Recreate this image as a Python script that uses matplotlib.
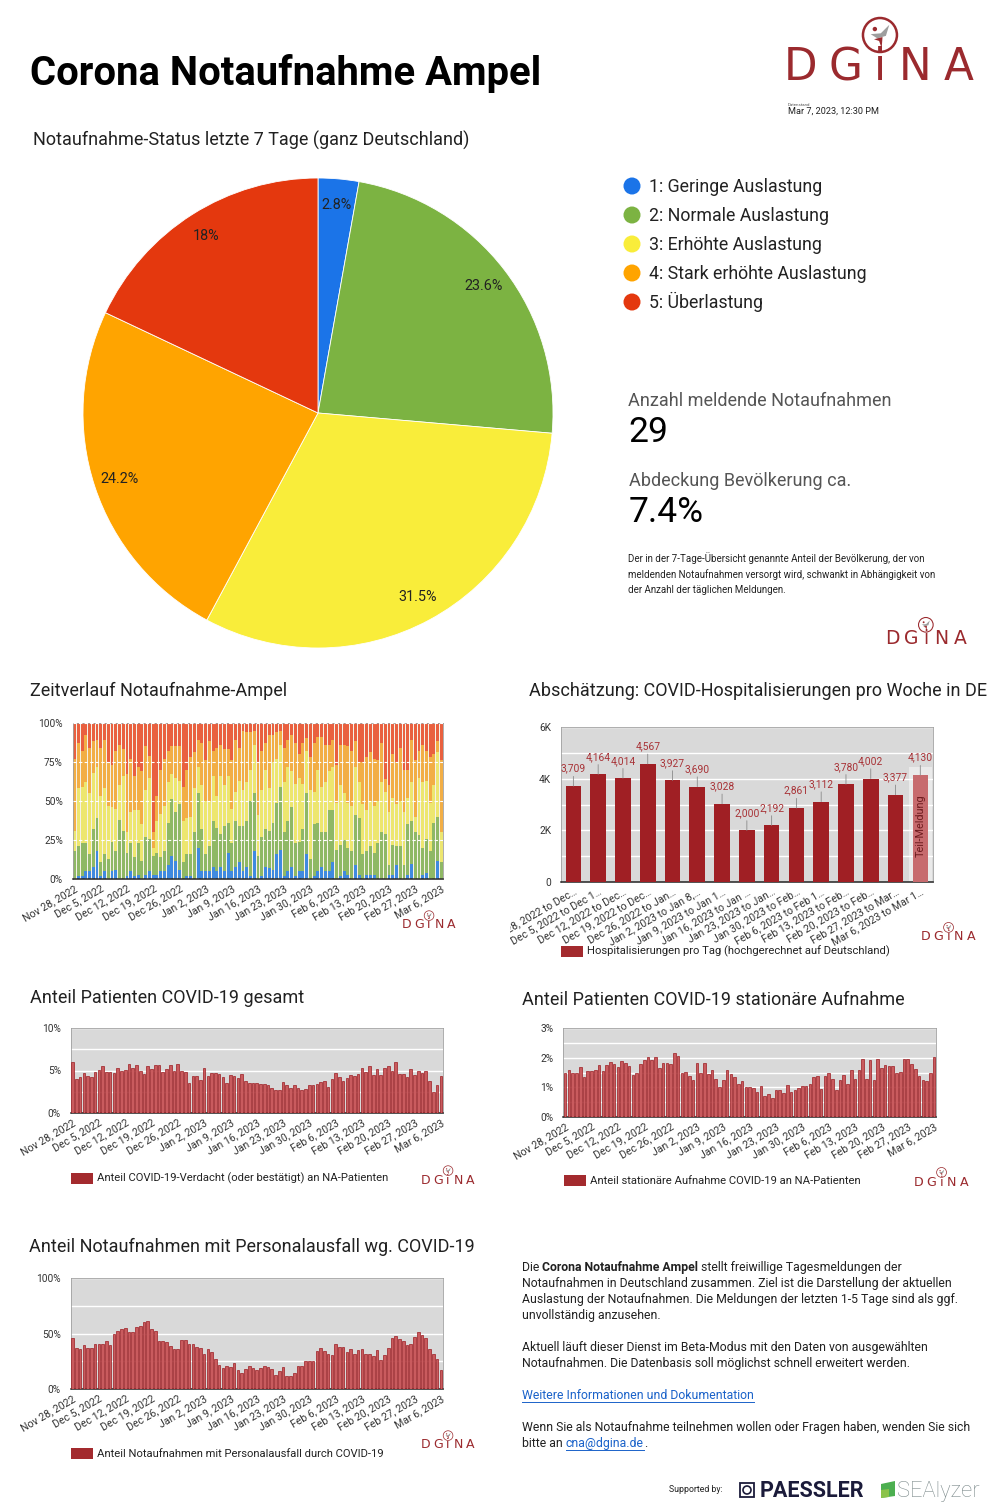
import numpy as np
import matplotlib
matplotlib.use("Agg")
import matplotlib.pyplot as plt
from matplotlib.patches import Circle, Rectangle, Polygon
from matplotlib.transforms import Bbox

plt.rcParams['font.family'] = ['Roboto', 'DejaVu Sans']

W, H = 1000, 1510

# ---- Pie: Status letzte 7 Tage ----
status_labels = ["1: Geringe Auslastung", "2: Normale Auslastung", "3: Erhöhte Auslastung",
                 "4: Stark erhöhte Auslastung", "5: Überlastung"]
status_share = [2.8, 23.6, 31.5, 24.2, 18.0]
pie_colors = ['#1b74e8', '#7cb342', '#f9ed3a', '#ffa400', '#e4380e']
ampel_colors = ['#3f8ae0', '#8fb865', '#ede66f', '#f2ae45', '#e9603f']

n_meldende = "29"
abdeckung = "7.4%"

# ---- Zeitverlauf Ampel (upper edge of each level, percent, daily from Nov 28, 2022) ----
cum_blue = [0, 2, 2, 5, 5, 8, 18, 2, 5, 0,
            5, 6, 0, 0, 2, 5, 2, 3, 0, 3,
            5, 3, 3, 5, 5, 9, 15, 12, 6, 0,
            2, 2, 0, 20, 5, 5, 5, 8, 5, 8,
            5, 17, 5, 8, 11, 5, 8, 2, 18, 0,
            2, 8, 7, 6, 16, 19, 2, 5, 8, 2,
            5, 5, 16, 0, 2, 5, 8, 5, 5, 11,
            0, 2, 5, 3, 0, 9, 3, 0, 3, 3,
            3, 0, 0, 0, 3, 3, 9, 0, 0, 3,
            10, 0, 0, 3, 4, 0, 0, 12, 0]
cum_green = [18, 21, 23, 23, 16, 32, 39, 11, 16, 13,
             24, 18, 38, 31, 17, 23, 14, 23, 12, 27,
             26, 15, 17, 14, 18, 36, 51, 43, 48, 11,
             16, 16, 30, 55, 32, 16, 21, 37, 33, 29,
             34, 36, 23, 37, 34, 34, 37, 50, 55, 15,
             27, 32, 31, 36, 49, 59, 30, 37, 46, 23,
             24, 32, 55, 13, 35, 36, 30, 30, 44, 44,
             19, 22, 25, 20, 18, 41, 39, 16, 18, 21,
             17, 23, 30, 29, 9, 22, 21, 21, 9, 35,
             37, 30, 28, 20, 26, 18, 36, 40, 11]
cum_yellow = [31, 58, 59, 62, 55, 68, 72, 53, 58, 47,
              46, 45, 60, 66, 30, 43, 44, 44, 35, 57,
              65, 20, 37, 42, 47, 62, 67, 65, 63, 37,
              39, 40, 58, 72, 60, 50, 50, 66, 53, 66,
              60, 66, 45, 56, 63, 57, 62, 70, 86, 41,
              57, 70, 58, 75, 77, 86, 62, 72, 69, 61,
              65, 61, 82, 57, 56, 70, 59, 62, 69, 72,
              49, 60, 55, 49, 47, 72, 62, 48, 44, 50,
              47, 50, 62, 56, 43, 52, 48, 50, 43, 52,
              62, 40, 65, 62, 63, 49, 60, 81, 30]
cum_orange = [77, 87, 82, 92, 84, 88, 89, 84, 89, 75,
              73, 82, 86, 83, 67, 77, 66, 72, 69, 85,
              79, 30, 53, 70, 77, 82, 85, 85, 85, 59,
              70, 78, 81, 89, 87, 76, 88, 82, 84, 86,
              83, 83, 76, 89, 84, 95, 94, 94, 95, 75,
              82, 87, 92, 92, 94, 95, 84, 89, 92, 87,
              80, 87, 90, 78, 87, 91, 91, 86, 86, 89,
              73, 86, 86, 85, 82, 88, 75, 75, 78, 81,
              77, 76, 87, 64, 60, 80, 75, 84, 70, 70,
              89, 76, 82, 86, 82, 78, 80, 88, 76]

week_labels = ["Nov 28, 2022", "Dec 5, 2022", "Dec 12, 2022", "Dec 19, 2022", "Dec 26, 2022",
               "Jan 2, 2023", "Jan 9, 2023", "Jan 16, 2023", "Jan 23, 2023", "Jan 30, 2023",
               "Feb 6, 2023", "Feb 13, 2023", "Feb 20, 2023", "Feb 27, 2023", "Mar 6, 2023"]

# ---- Hospitalisierungen pro Woche ----
hosp_labels = ["Nov 28, 2022 to Dec…", "Dec 5, 2022 to Dec 1…", "Dec 12, 2022 to Dec…",
               "Dec 19, 2022 to Dec…", "Dec 26, 2022 to Jan…", "Jan 2, 2023 to Jan 8,…",
               "Jan 9, 2023 to Jan 1…", "Jan 16, 2023 to Jan …", "Jan 23, 2023 to Jan…",
               "Jan 30, 2023 to Feb…", "Feb 6, 2023 to Feb 1…", "Feb 13, 2023 to Feb…",
               "Feb 20, 2023 to Feb…", "Feb 27, 2023 to Mar…", "Mar 6, 2023 to Mar 1…"]
hosp_values = [3709, 4164, 4014, 4567, 3927, 3690, 3028, 2000, 2192, 2861,
               3112, 3780, 4002, 3377, 4130]

# ---- Anteil COVID-19 gesamt (%) ----
covid_total = [6.0, 4.0, 4.2, 4.7, 4.4, 4.2, 4.8,
               5.1, 5.5, 4.8, 4.8, 4.7, 5.3, 4.9,
               5.1, 5.8, 5.3, 5.6, 5.0, 4.6, 5.5,
               5.2, 5.6, 5.6, 4.8, 5.2, 5.7, 5.0,
               5.8, 5.0, 4.8, 3.5, 4.4, 4.4, 3.9,
               5.3, 4.4, 4.7, 4.7, 4.6, 4.2, 3.5,
               4.5, 4.4, 4.1, 4.6, 3.8, 3.5, 3.5,
               3.5, 3.4, 3.4, 3.3, 3.0, 2.7, 2.7,
               3.7, 3.3, 2.9, 3.3, 2.9, 2.7, 2.8,
               3.3, 3.3, 3.4, 3.6, 3.8, 3.1, 4.0,
               4.7, 4.2, 3.8, 4.1, 4.5, 4.4, 4.6,
               5.3, 4.8, 5.5, 4.5, 5.2, 4.5, 5.3,
               5.5, 5.0, 6.0, 4.6, 4.6, 4.2, 5.2,
               4.5, 4.9, 4.7, 5.0, 3.8, 2.5, 3.3,
               4.4]

# ---- Anteil stationäre Aufnahme COVID-19 (%) ----
covid_inpatient = [1.50, 1.57, 1.50, 1.50, 1.70, 1.35, 1.55,
                   1.55, 1.60, 1.75, 1.55, 1.75, 1.85, 1.78,
                   1.70, 1.88, 1.82, 1.72, 1.42, 1.48, 1.78,
                   1.92, 2.02, 1.92, 2.02, 1.65, 1.82, 1.82,
                   1.78, 2.15, 2.05, 1.50, 1.52, 1.38, 1.25,
                   1.82, 1.50, 1.82, 1.45, 1.60, 1.28, 1.00,
                   1.25, 1.58, 1.45, 1.35, 1.12, 1.20, 1.02,
                   1.02, 0.98, 0.85, 1.05, 0.72, 0.78, 0.65,
                   0.92, 0.90, 0.82, 1.08, 0.85, 0.90, 0.98,
                   1.05, 1.05, 1.10, 1.35, 1.38, 0.95, 1.38,
                   1.48, 1.28, 0.92, 1.25, 1.42, 1.12, 1.58,
                   1.28, 1.58, 1.95, 1.28, 1.92, 1.25, 1.95,
                   1.65, 1.75, 1.72, 1.72, 1.48, 1.52, 1.95,
                   1.95, 1.78, 1.62, 1.38, 1.25, 1.22, 1.48,
                   2.02]

# ---- Anteil Notaufnahmen mit Personalausfall (%) ----
staff_shortage = [46, 37, 36, 40, 37, 37, 41,
                  41, 41, 43, 40, 50, 52, 54,
                  55, 51, 51, 56, 57, 60, 61,
                  54, 52, 43, 43, 42, 39, 36,
                  36, 44, 44, 41, 41, 38, 37,
                  32, 36, 33, 27, 22, 19, 21,
                  20, 24, 17, 15, 18, 21, 19,
                  17, 19, 21, 20, 18, 13, 16,
                  20, 12, 12, 15, 21, 21, 25,
                  25, 25, 34, 37, 34, 32, 31,
                  41, 38, 38, 33, 36, 32, 35,
                  36, 32, 32, 30, 35, 26, 31,
                  37, 46, 48, 45, 43, 40, 41,
                  47, 51, 49, 46, 36, 32, 27,
                  17]

BAR_RED = '#c95b5e'
BAR_EDGE = '#9c1d22'
LOGO_RED = '#9b2a2e'
DARK = '#212121'
GREY_TXT = '#555555'
TITLE_FS = 12.95
TICK_FS = 7.6

fig = plt.figure(figsize=(W / 100, H / 100), dpi=100)
fig.patch.set_facecolor('white')

# overlay in pixel coordinates (y downwards)
ov = fig.add_axes([0, 0, 1, 1])
ov.set_xlim(0, W)
ov.set_ylim(H, 0)
ov.axis('off')


def put(x, y, s, size, color=DARK, weight='normal', ha='left', va='baseline', **kw):
    return ov.text(x, y, s, fontsize=size, color=color, fontweight=weight,
                   ha=ha, va=va, **kw)


def axes_px(x0, y0, x1, y1):
    return fig.add_axes([x0 / W, 1 - y1 / H, (x1 - x0) / W, (y1 - y0) / H])


def dgina(x0, yc, w):
    s = w / 193.0
    for frac, ch in zip([0.083, 0.311, 0.492, 0.674, 0.902], "DGiNA"):
        ov.text(x0 + frac * w, yc, ch, fontsize=31.5 * s, color=LOGO_RED,
                ha='center', va='center', family='DejaVu Sans')
    cx, cy, r = x0 + 0.492 * w, yc - 33 * s, 17 * s
    ov.add_patch(Circle((cx, cy), r, fill=False, ec=LOGO_RED, lw=1.8 * s))
    grey = [(-0.55, -0.05), (0.05, -0.1), (0.55, -0.6), (0.35, 0.05), (-0.15, 0.2)]
    red = [(-0.35, 0.25), (0.15, 0.12), (0.1, 0.78), (-0.05, 0.35)]
    ov.add_patch(Polygon([(cx + a * r, cy + b * r) for a, b in grey], color='#9e9e9e', lw=0))
    ov.add_patch(Polygon([(cx + a * r, cy + b * r) for a, b in red], color=LOGO_RED, lw=0))
    ov.add_patch(Circle((cx - 0.3 * r, cy - 0.35 * r), 0.13 * r, color=LOGO_RED, lw=0))


def style_axes(ax):
    for side in ['left', 'top', 'right']:
        ax.spines[side].set_color('#a0a0a0')
        ax.spines[side].set_linewidth(0.6)
    ax.spines['bottom'].set_color('#222222')
    ax.spines['bottom'].set_linewidth(1.1)
    ax.tick_params(axis='y', which='both', length=0, pad=7, labelsize=7.3, labelcolor='#333333')
    ax.tick_params(axis='x', length=0, pad=3, labelsize=TICK_FS, labelcolor='#333333')


def clip_labels(ax, clip_x):
    box = Bbox.from_extents(clip_x, 0, W, H)
    for lab in ax.get_xticklabels():
        lab.set_clip_box(box)
        lab.set_clip_on(True)


def date_ticks(ax, n):
    ax.set_xticks(np.arange(0, n, 7))
    ax.set_xticklabels(week_labels, rotation=30, ha='right', rotation_mode='anchor')


def legend_box(x, y, text):
    ov.add_patch(Rectangle((x, y - 5.5), 22, 11, color='#a32a2e', lw=0))
    put(x + 26, y + 3.8, text, 8.1, color='#222222')


def daily_chart(rect, vals, ymax, major, minor, fmt, clip_x):
    ax = axes_px(*rect)
    x = np.arange(len(vals))
    ax.bar(x, vals, width=0.7, color=BAR_RED, edgecolor=BAR_EDGE, linewidth=0.5, zorder=3)
    ax.set_facecolor('#d9d9d9')
    ax.set_xlim(-0.5, len(vals) - 0.5)
    ax.set_ylim(0, ymax)
    ax.set_yticks(major)
    ax.set_yticklabels([fmt(v) for v in major])
    ax.set_yticks(minor, minor=True)
    ax.grid(axis='y', which='both', color='white', lw=1.0)
    ax.set_axisbelow(True)
    style_axes(ax)
    date_ticks(ax, len(vals))
    clip_labels(ax, clip_x)
    return ax


# ---------------- header ----------------
put(30, 85, "Corona Notaufnahme Ampel", 28.8, color='black', weight='bold')
dgina(785, 68, 193)
put(788, 105.5, "Datenstand", 3.2, color='#555555')
put(788, 114, "Mar 7, 2023, 12:30 PM", 6.6, color='#222222')

# ---------------- pie ----------------
put(33, 146, "Notaufnahme-Status letzte 7 Tage (ganz Deutschland)", TITLE_FS)


def pct_label(p):
    s = f"{p:.1f}"
    return (s[:-2] if s.endswith('.0') else s) + '%'


axp = axes_px(83, 178, 553, 648)
axp.pie(status_share, colors=pie_colors, startangle=90, counterclock=False,
        autopct=pct_label, pctdistance=0.89,
        wedgeprops=dict(edgecolor='white', linewidth=0.6),
        textprops=dict(fontsize=10.4, color='#222222'))
axp.set_xlim(-1, 1)
axp.set_ylim(-1, 1)
axp.axis('off')

for i, (lab, col) in enumerate(zip(status_labels, pie_colors)):
    yc = 186 + 29 * i
    ov.add_patch(Circle((632, yc), 8.5, color=col, lw=0))
    put(649, yc + 6, lab, 12.8, color='#222222')

put(628, 406, "Anzahl meldende Notaufnahmen", TITLE_FS, color=GREY_TXT)
put(628, 442, n_meldende, 25.5, color='black')
put(629, 486, "Abdeckung Bevölkerung ca.", TITLE_FS, color=GREY_TXT)
put(629, 522, abdeckung, 25.5, color='black')
for k, line in enumerate(["Der in der 7-Tage-Übersicht genannte Anteil der Bevölkerung, der von",
                          "meldenden Notaufnahmen versorgt wird, schwankt in Abhängigkeit von",
                          "der Anzahl der täglichen Meldungen."]):
    put(628, 562 + 15.5 * k, line, 7.0, color='#222222')
dgina(885, 639, 83)

# ---------------- Zeitverlauf Ampel ----------------
put(30, 696, "Zeitverlauf Notaufnahme-Ampel", TITLE_FS)
axa = axes_px(72.7, 722.7, 443.3, 879.3)
xd = np.arange(len(cum_blue))
lower = np.zeros(len(xd))
tops = [np.array(cum_blue), np.array(cum_green), np.array(cum_yellow),
        np.array(cum_orange), np.full(len(xd), 100.0)]
for top, col in zip(tops, ampel_colors):
    axa.bar(xd, top - lower, bottom=lower, width=0.78, color=col, linewidth=0)
    lower = top
axa.set_xlim(-0.5, len(xd) - 0.5)
axa.set_ylim(0, 100)
axa.set_yticks([0, 25, 50, 75, 100])
axa.set_yticklabels(["0%", "25%", "50%", "75%", "100%"])
axa.set_axisbelow(False)
axa.grid(axis='y', color='white', ls=(0, (3, 2)), lw=0.8)
axa.set_facecolor('#f4f1e8')
style_axes(axa)
date_ticks(axa, len(xd))
clip_labels(axa, 20)
dgina(402, 925, 55)

# ---------------- Hospitalisierungen ----------------
put(529, 696, "Abschätzung: COVID-Hospitalisierungen pro Woche in DE", TITLE_FS)
axh = axes_px(561, 726.7, 932.7, 882.3)
xh = np.arange(len(hosp_values))
hcols = ['#a01f24'] * (len(xh) - 1) + ['#c76b6e']
axh.bar(xh[-1], hosp_values[-1] + 300, width=0.95, color='white', alpha=0.45, zorder=2, lw=0)
axh.bar(xh, hosp_values, width=0.63, color=hcols, zorder=3, lw=0)
for xi, v in zip(xh, hosp_values):
    axh.annotate(f"{v:,}", xy=(xi, v), xytext=(0, 9), textcoords='offset points',
                 ha='center', va='bottom', fontsize=7.4, color='#a83236', zorder=5,
                 arrowprops=dict(arrowstyle='-', color='#8a8a8a', lw=0.6,
                                 shrinkA=0, shrinkB=0, relpos=(0.5, 0)))
axh.text(xh[-1], hosp_values[-1] * 0.53, "Teil-Meldung", rotation=90, ha='center',
         va='center', fontsize=7.8, color='#6e1c1f', zorder=4)
axh.set_facecolor('#d9d9d9')
axh.set_xlim(-0.5, len(xh) - 0.5)
axh.set_ylim(0, 6000)
axh.set_yticks([0, 2000, 4000, 6000])
axh.set_yticklabels(["0", "2K", "4K", "6K"])
axh.set_yticks([1000, 3000, 5000], minor=True)
axh.grid(axis='y', which='both', color='white', lw=1.0)
axh.set_axisbelow(True)
style_axes(axh)
axh.set_xticks(xh)
axh.set_xticklabels(hosp_labels, rotation=30, ha='right', rotation_mode='anchor')
clip_labels(axh, 510)
legend_box(561, 951, "Hospitalisierungen pro Tag (hochgerechnet auf Deutschland)")
dgina(921, 937, 56)

# ---------------- COVID-19 gesamt ----------------
put(30, 1003, "Anteil Patienten COVID-19 gesamt", TITLE_FS)
daily_chart((70.7, 1027.7, 442.7, 1113.3), covid_total, 10, [0, 5, 10], [2.5, 7.5],
            lambda v: f"{v:g}%", 20)
legend_box(71, 1178, "Anteil COVID-19-Verdacht (oder bestätigt) an NA-Patienten")
dgina(421, 1180, 55)

# ---------------- COVID-19 stationär ----------------
put(522, 1005, "Anteil Patienten COVID-19 stationäre Aufnahme", TITLE_FS)
daily_chart((563.3, 1027.7, 936, 1117.3), covid_inpatient, 3, [0, 1, 2, 3], [0.5, 1.5, 2.5],
            lambda v: f"{v:g}%", 512)
legend_box(564, 1180, "Anteil stationäre Aufnahme COVID-19 an NA-Patienten")
dgina(914, 1182, 56)

# ---------------- Personalausfall ----------------
put(29, 1252, "Anteil Notaufnahmen mit Personalausfall wg. COVID-19", TITLE_FS)
daily_chart((70.7, 1277.7, 442.7, 1389.3), staff_shortage, 100, [0, 50, 100], [25, 75],
            lambda v: f"{v:g}%", 20)
legend_box(71, 1453, "Anteil Notaufnahmen mit Personalausfall durch COVID-19")
dgina(421, 1445, 55)

# ---------------- info text ----------------
fig.canvas.draw()
rend = fig.canvas.get_renderer()


def width_of(t):
    return t.get_window_extent(rend).width


FS = 8.8
LINK = '#1a62c9'
m1 = put(500, 700, "a a", FS)
m2 = put(500, 700, "aa", FS)
sp = width_of(m1) - width_of(m2)
m1.remove()
m2.remove()

y0 = 1271
t = put(522, y0, "Die", FS)
xb = 522 + width_of(t) + sp
tb = put(xb, y0, "Corona Notaufnahme Ampel", FS, weight='bold')
put(xb + width_of(tb) + sp, y0, "stellt freiwillige Tagesmeldungen der", FS)
lines = [(1287, "Notaufnahmen in Deutschland zusammen. Ziel ist die Darstellung der aktuellen"),
         (1303, "Auslastung der Notaufnahmen. Die Meldungen der letzten 1-5 Tage sind als ggf."),
         (1319, "unvollständig anzusehen."),
         (1351, "Aktuell läuft dieser Dienst im Beta-Modus mit den Daten von ausgewählten"),
         (1367, "Notaufnahmen. Die Datenbasis soll möglichst schnell erweitert werden."),
         (1431, "Wenn Sie als Notaufnahme teilnehmen wollen oder Fragen haben, wenden Sie sich")]
for yy, s in lines:
    put(522, yy, s, FS)
tl = put(522, 1399, "Weitere Informationen und Dokumentation", FS, color=LINK)
ov.plot([522, 522 + width_of(tl)], [1401.5, 1401.5], color=LINK, lw=0.7)
tb2 = put(522, 1447, "bitte an", FS)
xm = 522 + width_of(tb2) + sp
tm = put(xm, 1447, "cna@dgina.de", FS, color=LINK)
ov.plot([xm, xm + width_of(tm)], [1449.5, 1449.5], color=LINK, lw=0.7)
put(xm + width_of(tm), 1447, ".", FS)

# ---------------- supported by ----------------
put(669, 1492, "Supported by:", 6.3, color='#222222')
ov.add_patch(Rectangle((740, 1483), 14, 14, fill=False, ec='#1b1b3a', lw=1.3))
ov.add_patch(Circle((747, 1490), 4, fill=False, ec='#1b1b3a', lw=1.2))
put(760, 1497, "PAESSLER", 15.5, color='#1b1b3a', weight='bold')
ov.add_patch(Polygon([(881, 1484), (895, 1481), (895, 1496), (881, 1498)], color='#4caf50', lw=0))
ov.add_patch(Polygon([(881, 1490), (889, 1489), (889, 1497), (881, 1498)], color='#8bc34a', lw=0))
put(897, 1497, "SEAlyzer", 15.8, color='#7f8c8d', weight='light')

fig.savefig("out.png", dpi=100)
